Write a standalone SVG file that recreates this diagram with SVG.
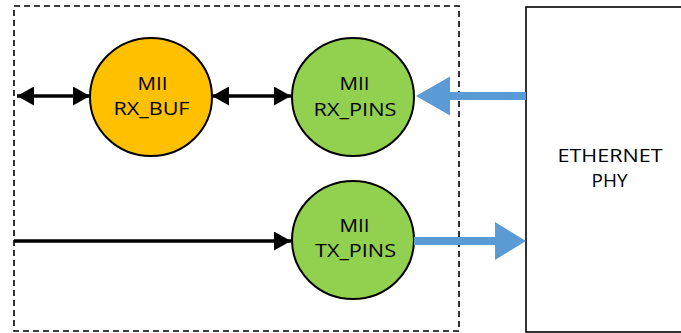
<svg xmlns="http://www.w3.org/2000/svg" width="681" height="333" viewBox="0 0 681 333">
  <defs>
    <marker id="blk" markerWidth="17" markerHeight="19" refX="17" refY="9.5" orient="auto-start-reverse" markerUnits="userSpaceOnUse">
      <path d="M0,0 L17,9.5 L0,19 Z" fill="#000"/>
    </marker>
  </defs>
  <style>
    .lbl { font-family: "Open Sans", "Noto Sans", sans-serif; font-size: 18.7px; fill: #000; text-anchor: middle; }
    .node { stroke: #000; stroke-width: 2; }
    .wire { stroke: #000; stroke-width: 3.5; fill: none; }
    .bus { fill: #5B9BD5; }
  </style>

  <!-- MAC boundary -->
  <rect x="14" y="6" width="445" height="325" fill="none" stroke="#000" stroke-width="1.6" stroke-dasharray="6,4"/>

  <g id="phy">
    <rect x="526" y="7" width="170" height="325" fill="#fff" stroke="#000" stroke-width="1.6"/>
    <text class="lbl" x="610" y="162" textLength="105" lengthAdjust="spacingAndGlyphs">ETHERNET</text>
    <text class="lbl" x="609.5" y="187" textLength="36" lengthAdjust="spacingAndGlyphs">PHY</text>
  </g>

  <g id="rx_buf">
    <ellipse class="node" cx="151" cy="97" rx="61" ry="59" fill="#FFC000"/>
    <text class="lbl" x="152.5" y="90" textLength="30" lengthAdjust="spacingAndGlyphs">MII</text>
    <text class="lbl" x="151.5" y="114.5" textLength="76" lengthAdjust="spacingAndGlyphs">RX_BUF</text>
  </g>

  <g id="rx_pins">
    <ellipse class="node" cx="353" cy="97" rx="61" ry="59" fill="#92D050"/>
    <text class="lbl" x="354.5" y="90" textLength="30" lengthAdjust="spacingAndGlyphs">MII</text>
    <text class="lbl" x="355" y="116" textLength="83" lengthAdjust="spacingAndGlyphs">RX_PINS</text>
  </g>

  <g id="tx_pins">
    <ellipse class="node" cx="353" cy="240" rx="61" ry="59" fill="#92D050"/>
    <text class="lbl" x="354.5" y="232" textLength="30" lengthAdjust="spacingAndGlyphs">MII</text>
    <text class="lbl" x="355.5" y="257" textLength="81" lengthAdjust="spacingAndGlyphs">TX_PINS</text>
  </g>

  <g id="connectors">
    <line class="wire" x1="17" y1="96" x2="90" y2="96" marker-start="url(#blk)" marker-end="url(#blk)"/>
    <line class="wire" x1="212" y1="96" x2="291" y2="96" marker-start="url(#blk)" marker-end="url(#blk)"/>
    <line class="wire" x1="14" y1="241" x2="291" y2="241" marker-end="url(#blk)"/>
    <!-- PHY to RX pins -->
    <path class="bus" d="M526,92 L450,92 L450,76.5 L416,96 L450,115.5 L450,100 L526,100 Z"/>
    <!-- TX pins to PHY -->
    <path class="bus" d="M414,237 L495,237 L495,222 L526,241 L495,260 L495,245 L414,245 Z"/>
  </g>
</svg>
